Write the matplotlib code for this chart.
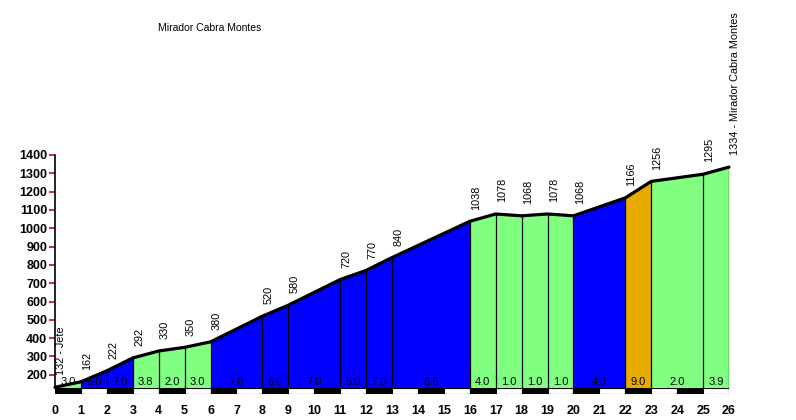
import matplotlib
matplotlib.use("Agg")
import matplotlib.pyplot as plt
from matplotlib.patches import Rectangle

plt.rcParams['font.family'] = ['Liberation Sans', 'DejaVu Sans']

# profile data
km = [0, 1, 2, 3, 4, 5, 6, 8, 9, 11, 12, 13, 16, 17, 18, 19, 20, 22, 23, 25, 26]
elev = [132, 162, 222, 292, 330, 350, 380, 520, 580, 720, 770, 840, 1038,
        1078, 1068, 1078, 1068, 1166, 1256, 1295, 1334]
point_labels = ["132 - Jete", "162", "222", "292", "330", "350", "380", "520",
                "580", "720", "770", "840", "1038", "1078", "1068", "1078",
                "1068", "1166", "1256", "1295", "1334 - Mirador Cabra Montes"]
grades = ["3.0", "6.0", "7.0", "3.8", "2.0", "3.0", "7.0", "6.0", "7.0", "5.0",
          "7.0", "6.6", "4.0", "1.0", "1.0", "1.0", "4.9", "9.0", "2.0", "3.9"]
GREEN, BLUE, ORANGE = "#80ff80", "#0000ff", "#e8aa00"
seg_colors = [GREEN, BLUE, BLUE, GREEN, GREEN, GREEN, BLUE, BLUE, BLUE, BLUE,
              BLUE, BLUE, GREEN, GREEN, GREEN, GREEN, BLUE, ORANGE, GREEN, GREEN]
title = "Mirador Cabra Montes"

W, H = 796, 420
fig = plt.figure(figsize=(W / 100, H / 100), dpi=100)
fig.patch.set_facecolor("white")

ymin, ymax = 128, 1400
ax_left, ax_right = 55, 729
ax_top, ax_bot = 155, 388
ax = fig.add_axes([ax_left / W, 1 - ax_bot / H, (ax_right - ax_left) / W, (ax_bot - ax_top) / H])
ax.set_xlim(0, 26)
ax.set_ylim(ymin, ymax)

for i in range(len(km) - 1):
    xs = [km[i], km[i + 1]]
    ax.fill_between(xs, [ymin, ymin], [elev[i], elev[i + 1]], color=seg_colors[i], lw=0)
    ax.plot([km[i + 1], km[i + 1]], [ymin, elev[i + 1]], color="black", lw=0.9)
    ax.text((km[i] + km[i + 1]) / 2, ymin + 33, grades[i], ha="center", va="center",
            fontsize=8, color="black")

ax.plot(km, elev, color="black", lw=2.3, solid_capstyle="round", clip_on=False)

for x, y, lab in zip(km, elev, point_labels):
    ax.annotate(lab, (x, y), xytext=(4.5, 8.5), textcoords="offset points",
                rotation=90, ha="center", va="bottom", fontsize=7.8,
                annotation_clip=False)

for s in ["top", "right", "bottom"]:
    ax.spines[s].set_visible(False)
ax.spines["left"].set_linewidth(1.2)
ax.set_yticks(range(200, 1401, 100))
ax.set_yticklabels([str(v) for v in range(200, 1401, 100)], fontsize=9, fontweight="bold")
ax.tick_params(axis="y", colors="#dd0000", length=4, width=1.2, pad=1.5, labelcolor="black")
ax.set_xticks([])

# km strip
sax = fig.add_axes([ax_left / W, 1 - 394 / H, (ax_right - ax_left) / W, 6 / H])
sax.set_xlim(0, 26)
sax.set_ylim(0, 1)
for k in range(26):
    sax.add_patch(Rectangle((k, 0), 1, 1, facecolor="black" if k % 2 == 0 else "white",
                            edgecolor="black", lw=0.8))
for s in sax.spines.values():
    s.set_visible(False)
sax.set_yticks([])
sax.set_xticks(range(27))
sax.set_xticklabels([str(k) for k in range(27)], fontsize=9, fontweight="bold")
sax.tick_params(axis="x", length=0, pad=8)

fig.text(158 / W, 1 - 28 / H, title, fontsize=7.5, ha="left", va="center")

fig.savefig("out.png", dpi=100)
